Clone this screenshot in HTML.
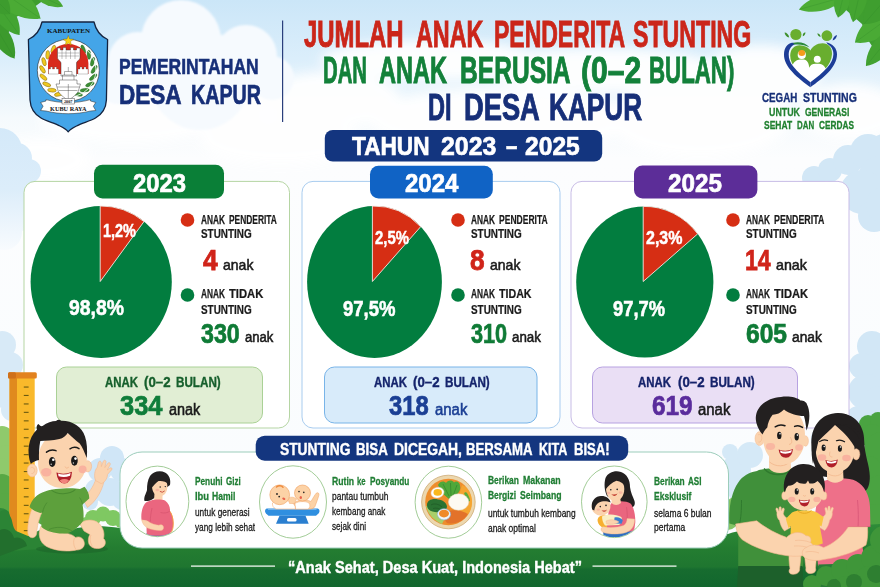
<!DOCTYPE html>
<html lang="id"><head><meta charset="utf-8"><title>Stunting Desa Kapur</title>
<style>
html,body{margin:0;padding:0;}
body{width:880px;height:587px;overflow:hidden;position:relative;background:#f6fafd;font-family:"Liberation Sans",sans-serif;}
#bg{position:absolute;left:0;top:0;width:880px;height:587px;display:block;}
.t{position:absolute;white-space:nowrap;line-height:1;transform-origin:0 0;margin:0;padding:0;}
</style></head><body>

<svg id="bg" width="880" height="587" viewBox="0 0 880 587">
<defs>
<linearGradient id="sky" x1="0" y1="0" x2="0" y2="1">
 <stop offset="0" stop-color="#cbe6f8"/><stop offset="0.1" stop-color="#dbeefb"/>
 <stop offset="0.2" stop-color="#f5fafd"/><stop offset="0.27" stop-color="#fcfdfe"/><stop offset="1" stop-color="#f9fcfe"/>
</linearGradient>
<linearGradient id="ground" x1="0" y1="524" x2="0" y2="587" gradientUnits="userSpaceOnUse">
 <stop offset="0" stop-color="#2e8c38"/><stop offset="0.38" stop-color="#247d31"/><stop offset="0.68" stop-color="#1f7630"/><stop offset="0.72" stop-color="#176c2f"/><stop offset="1" stop-color="#12672e"/>
</linearGradient>
<linearGradient id="leaf" x1="0" y1="0" x2="1" y2="1">
 <stop offset="0" stop-color="#54b23a"/><stop offset="1" stop-color="#3a9a2e"/>
</linearGradient>
<linearGradient id="lcl" x1="0" y1="128" x2="0" y2="250" gradientUnits="userSpaceOnUse">
 <stop offset="0" stop-color="#d4e9f9"/><stop offset="0.5" stop-color="#dcedfa"/><stop offset="1" stop-color="#f8fbfe"/>
</linearGradient>
<filter id="b3" x="-20%" y="-20%" width="140%" height="140%"><feGaussianBlur stdDeviation="3"/></filter>
<filter id="b6" x="-20%" y="-20%" width="140%" height="140%"><feGaussianBlur stdDeviation="6"/></filter>
<filter id="b1" x="-20%" y="-20%" width="140%" height="140%"><feGaussianBlur stdDeviation="1"/></filter>
</defs>
<rect x="0" y="0" width="880" height="587" fill="url(#sky)"/>
<g fill="#ffffff" filter="url(#b6)" opacity="0.95"><ellipse cx="200" cy="95" rx="80" ry="35"/><ellipse cx="130" cy="118" rx="90" ry="26"/><ellipse cx="40" cy="160" rx="50" ry="22"/><ellipse cx="330" cy="100" rx="70" ry="28"/><ellipse cx="500" cy="120" rx="130" ry="32"/><ellipse cx="700" cy="120" rx="90" ry="38"/><ellipse cx="600" cy="70" rx="120" ry="22"/><ellipse cx="760" cy="75" rx="60" ry="30"/><ellipse cx="850" cy="112" rx="50" ry="28"/><ellipse cx="280" cy="140" rx="80" ry="25"/><ellipse cx="430" cy="60" rx="110" ry="20"/></g><g fill="#f6fafe" filter="url(#b1)"><circle cx="181" cy="40" r="40"/><circle cx="138" cy="62" r="30"/><circle cx="246" cy="56" r="31"/><circle cx="118" cy="84" r="20"/><circle cx="272" cy="78" r="22"/><circle cx="200" cy="80" r="50"/></g><g fill="#d2e7f6"><circle cx="814" cy="178" r="12"/><circle cx="830" cy="170" r="12"/><circle cx="848" cy="160" r="15"/><circle cx="868" cy="152" r="18"/><circle cx="884" cy="150" r="16"/><circle cx="880" cy="178" r="22"/><circle cx="862" cy="192" r="22"/><circle cx="874" cy="216" r="16"/><circle cx="884" cy="205" r="18"/><circle cx="872" cy="346" r="15"/><circle cx="884" cy="370" r="22"/><circle cx="862" cy="366" r="13"/><circle cx="866" cy="392" r="18"/><circle cx="882" cy="410" r="24"/><circle cx="858" cy="418" r="12"/><circle cx="856" cy="440" r="10"/></g><g fill="#d8eaf7"><circle cx="2" cy="345" r="14"/><circle cx="10" cy="365" r="13"/><circle cx="4" cy="390" r="18"/><circle cx="12" cy="410" r="11"/></g><g fill="url(#lcl)"><circle cx="0" cy="150" r="22"/><circle cx="17" cy="158" r="15"/><circle cx="29" cy="171" r="12"/><circle cx="32" cy="190" r="10"/><circle cx="8" cy="190" r="26"/><circle cx="20" cy="215" r="16"/><circle cx="4" cy="232" r="18"/></g><g><path d="M0 0 L44 0 L30 10 L14 18 L8 34 L0 46Z" fill="#3e9d2f"/><path d="M812 0 L880 0 L880 58 L868 40 L862 24 L846 10Z" fill="#3f9e2f"/><path d="M-6.0 24.0 C-13.8 34.2 -0.5 54.3 14.5 58.5 C18.0 43.3 6.7 22.1 -6.0 24.0Z" fill="#3c9a2d"/><path d="M-6 24 L14.5 58.5" stroke="#2f8a28" stroke-width="0.6" opacity="0.5"/><path d="M-6.0 0.0 C-13.7 12.0 2.6 32.3 19.5 35.0 C22.1 18.1 7.8 -3.6 -6.0 0.0Z" fill="#43a432"/><path d="M-6 0 L19.5 35" stroke="#2f8a28" stroke-width="0.6" opacity="0.5"/><path d="M36.0 -6.0 C36.0 2.5 52.5 9.3 63.0 6.5 C58.4 -3.3 42.5 -11.5 36.0 -6.0Z" fill="#4aa934"/><path d="M36 -6 L63 6.5" stroke="#2f8a28" stroke-width="0.6" opacity="0.5"/><path d="M-6.0 -14.0 C-10.4 4.2 18.4 22.4 40.5 18.5 C36.6 -3.6 9.6 -24.4 -6.0 -14.0Z" fill="#4bab35"/><path d="M-6 -14 L40.5 18.5" stroke="#2f8a28" stroke-width="0.6" opacity="0.5"/><path d="M-14.0 -10.0 C-21.0 2.8 -5.7 16.2 10.0 14.0 C12.2 -1.7 -1.2 -17.0 -14.0 -10.0Z" fill="#3d9c2e"/><path d="M-14 -10 L10 14" stroke="#2f8a28" stroke-width="0.6" opacity="0.5"/><path d="M840.0 -2.0 C832.2 -10.7 807.9 -2.9 799.0 9.5 C813.0 15.4 837.9 9.5 840.0 -2.0Z" fill="#4dad36"/><path d="M840 -2 L799 9.5" stroke="#2f8a28" stroke-width="0.6" opacity="0.5"/><path d="M846.0 -14.0 C834.2 -13.0 830.4 6.2 838.0 17.5 C850.1 11.2 855.9 -7.5 846.0 -14.0Z" fill="#46a733"/><path d="M846 -14 L838 17.5" stroke="#2f8a28" stroke-width="0.6" opacity="0.5"/><path d="M862.0 -16.0 C849.3 -14.2 845.0 8.9 853.0 22.0 C866.0 13.8 872.5 -8.7 862.0 -16.0Z" fill="#44a431"/><path d="M862 -16 L853 22" stroke="#2f8a28" stroke-width="0.6" opacity="0.5"/><path d="M894.0 14.0 C880.2 5.0 857.7 23.3 855.0 42.5 C874.1 45.8 898.4 29.9 894.0 14.0Z" fill="#4aaa35"/><path d="M894 14 L855 42.5" stroke="#2f8a28" stroke-width="0.6" opacity="0.5"/><path d="M894.0 32.0 C880.9 28.1 865.0 49.2 866.0 66.0 C882.6 63.7 900.4 44.1 894.0 32.0Z" fill="#43a231"/><path d="M894 32 L866 66" stroke="#2f8a28" stroke-width="0.6" opacity="0.5"/><path d="M892.0 -8.0 C876.0 -15.2 860.4 5.0 864.0 24.0 C883.3 25.0 901.3 6.9 892.0 -8.0Z" fill="#3f9e2f"/><path d="M892 -8 L864 24" stroke="#2f8a28" stroke-width="0.6" opacity="0.5"/></g><g fill="#8fca6c"><circle cx="2" cy="438" r="12"/><circle cx="6" cy="455" r="10"/><circle cx="0" cy="470" r="12"/></g><g fill="#58a845"><circle cx="2" cy="486" r="12"/><circle cx="4" cy="505" r="12"/><circle cx="40" cy="505" r="9"/><circle cx="44" cy="516" r="9"/></g><g fill="#d0e6f7"><circle cx="100" cy="470" r="12"/><circle cx="112" cy="458" r="12"/><circle cx="122" cy="470" r="12"/><circle cx="96" cy="490" r="11"/><circle cx="110" cy="492" r="14"/><circle cx="122" cy="500" r="10"/><circle cx="90" cy="502" r="8"/></g><g fill="#7fc862"><circle cx="93" cy="518" r="8"/><circle cx="103" cy="514" r="7.5"/><circle cx="113" cy="518" r="8"/><circle cx="86" cy="523" r="6"/><circle cx="121" cy="522" r="6"/></g><g fill="#d5e9f7"><circle cx="736" cy="470" r="15"/><circle cx="750" cy="455" r="13"/><circle cx="744" cy="490" r="16"/><circle cx="822" cy="438" r="11"/><circle cx="730" cy="452" r="8"/></g><g fill="#84c464"><circle cx="736" cy="508" r="11"/><circle cx="728" cy="520" r="10"/><circle cx="746" cy="522" r="10"/></g><g fill="#4aa341"><circle cx="868" cy="424" r="9"/><circle cx="878" cy="420" r="8"/><circle cx="872" cy="436" r="12"/><circle cx="882" cy="450" r="18"/><circle cx="868" cy="470" r="14"/><circle cx="882" cy="495" r="20"/><circle cx="874" cy="520" r="16"/><circle cx="882" cy="545" r="20"/></g><g fill="#2f8a38"><circle cx="0" cy="520" r="12"/><circle cx="14" cy="528" r="10"/><circle cx="2" cy="540" r="12"/></g><path d="M0 528 C12 524 24 534 36 532 C46 526 58 528 70 530 C90 524 105 526 120 528 L140 530 L710 534 L728 534 C738 530 750 530 760 532 L880 524 L880 587 L0 587 Z" fill="url(#ground)"/><rect x="24" y="181.4" width="265.5" height="246.6" rx="11" fill="#ffffff" stroke="#b5d5a3" stroke-width="1"/><rect x="302" y="181.4" width="258" height="246.6" rx="11" fill="#ffffff" stroke="#a8ccef" stroke-width="1"/><rect x="571" y="181.4" width="278" height="246.6" rx="11" fill="#ffffff" stroke="#c8bce6" stroke-width="1"/><rect x="56.5" y="367" width="206.0" height="56" rx="10" fill="#e1eed4" stroke="#aad196" stroke-width="1"/><rect x="324.5" y="367" width="212.5" height="56" rx="10" fill="#d8ebfa" stroke="#78b4e8" stroke-width="1"/><rect x="592.5" y="367" width="205.0" height="56" rx="10" fill="#eadff5" stroke="#b7a2e1" stroke-width="1"/><ellipse cx="101.2" cy="282" rx="70.6" ry="76" fill="#027d3f"/><path d="M100.2 281.5 L100.20 206.01 A70.6 76 0 0 1 144.00 221.55 Z" fill="#d62e14" stroke="#f4e9e4" stroke-width="0.9" stroke-linejoin="round"/><ellipse cx="374.5" cy="282" rx="67.4" ry="76" fill="#027d3f"/><path d="M372.4 281.5 L372.40 206.04 A67.4 76 0 0 1 420.70 226.66 Z" fill="#d62e14" stroke="#f4e9e4" stroke-width="0.9" stroke-linejoin="round"/><ellipse cx="644.8" cy="282" rx="68.6" ry="75.6" fill="#027d3f"/><path d="M643.2 281.5 L643.20 206.42 A68.6 75.6 0 0 1 697.70 233.87 Z" fill="#d62e14" stroke="#f4e9e4" stroke-width="0.9" stroke-linejoin="round"/><rect x="94" y="164.8" width="130" height="33.8" rx="8.5" fill="#0a7f37"/><rect x="370" y="165.8" width="122.8" height="32.6" rx="8.5" fill="#1063c5"/><rect x="634" y="165.6" width="123.4" height="33" rx="8.5" fill="#5c2d98"/><circle cx="187.5" cy="220" r="6.8" fill="#d62e14"/><circle cx="187.5" cy="295" r="6.8" fill="#027d3f"/><circle cx="458" cy="220" r="6.8" fill="#d62e14"/><circle cx="458" cy="295" r="6.8" fill="#027d3f"/><circle cx="733" cy="220" r="6.8" fill="#d62e14"/><circle cx="733" cy="295" r="6.8" fill="#027d3f"/><rect x="324.8" y="130" width="277.4" height="31.6" rx="8" fill="#13357f"/><rect x="282" y="20.5" width="1.2" height="101.5" fill="#2a3f7c"/><g><rect x="9.5" y="376" width="25.2" height="165" fill="#f9b92b"/><rect x="9.5" y="376" width="7.5" height="165" fill="#e08a1e"/><rect x="8" y="372.3" width="28.8" height="6.2" rx="1.5" fill="#e2821f"/><rect x="8" y="372.3" width="8" height="6.2" rx="1.5" fill="#cf701a"/><rect x="23.8" y="386.5" width="4.8" height="1.1" fill="#6b5a10"/><rect x="23.8" y="394.9" width="4.8" height="1.1" fill="#6b5a10"/><rect x="23.8" y="403.4" width="4.8" height="1.1" fill="#6b5a10"/><rect x="23.8" y="411.8" width="4.8" height="1.1" fill="#6b5a10"/><rect x="23.8" y="420.3" width="4.8" height="1.1" fill="#6b5a10"/><rect x="23.8" y="428.7" width="4.8" height="1.1" fill="#6b5a10"/><rect x="23.8" y="437.2" width="4.8" height="1.1" fill="#6b5a10"/><rect x="23.8" y="445.6" width="4.8" height="1.1" fill="#6b5a10"/><rect x="23.8" y="454.1" width="4.8" height="1.1" fill="#6b5a10"/><rect x="23.8" y="462.5" width="4.8" height="1.1" fill="#6b5a10"/><rect x="23.8" y="471.0" width="4.8" height="1.1" fill="#6b5a10"/><rect x="23.8" y="479.4" width="4.8" height="1.1" fill="#6b5a10"/><rect x="23.8" y="487.9" width="4.8" height="1.1" fill="#6b5a10"/><rect x="23.8" y="496.3" width="4.8" height="1.1" fill="#6b5a10"/><rect x="23.8" y="504.8" width="4.8" height="1.1" fill="#6b5a10"/><rect x="23.8" y="513.2" width="4.8" height="1.1" fill="#6b5a10"/><rect x="23.8" y="521.7" width="4.8" height="1.1" fill="#6b5a10"/><rect x="23.8" y="530.1" width="4.8" height="1.1" fill="#6b5a10"/><rect x="23.8" y="538.6" width="4.8" height="1.1" fill="#6b5a10"/></g><g><path d="M42 22 L94 22 C96 31 100 36 107.6 39.5 L106.4 100 C106 108 102.5 114 95.5 118 C89.5 121.5 81.5 123 76.5 126 C73 127.8 70 129.6 68.2 131.8 C66.5 129.6 63.5 127.8 60 126 C55 123 47 121.5 41 118 C34 114 30.5 108 30 100 L28.4 39.5 C36 36 40 31 42 22 Z" fill="#44a5e8" stroke="#14233f" stroke-width="1.3" stroke-linejoin="round"/><circle cx="68.3" cy="70.3" r="31" fill="#ffffff" stroke="#222" stroke-width="0.6"/><ellipse cx="58.6" cy="94.2" rx="4.3" ry="1.9" fill="#efc81f" stroke="#6a5208" stroke-width="0.4" transform="rotate(167 58.6 94.2)"/><ellipse cx="78.0" cy="94.2" rx="4.6" ry="1.8" fill="#3d8f35" stroke="#1d5a1c" stroke-width="0.35" transform="rotate(13 78.0 94.2)"/><ellipse cx="51.9" cy="90.2" rx="4.3" ry="1.9" fill="#efc81f" stroke="#6a5208" stroke-width="0.4" transform="rotate(184 51.9 90.2)"/><ellipse cx="84.7" cy="90.2" rx="4.6" ry="1.8" fill="#3d8f35" stroke="#1d5a1c" stroke-width="0.35" transform="rotate(-4 84.7 90.2)"/><ellipse cx="46.7" cy="84.4" rx="4.3" ry="1.9" fill="#efc81f" stroke="#6a5208" stroke-width="0.4" transform="rotate(202 46.7 84.4)"/><ellipse cx="89.9" cy="84.4" rx="4.6" ry="1.8" fill="#3d8f35" stroke="#1d5a1c" stroke-width="0.35" transform="rotate(-22 89.9 84.4)"/><ellipse cx="43.4" cy="77.2" rx="4.3" ry="1.9" fill="#efc81f" stroke="#6a5208" stroke-width="0.4" transform="rotate(220 43.4 77.2)"/><ellipse cx="93.2" cy="77.2" rx="4.6" ry="1.8" fill="#3d8f35" stroke="#1d5a1c" stroke-width="0.35" transform="rotate(-40 93.2 77.2)"/><ellipse cx="42.5" cy="69.4" rx="4.3" ry="1.9" fill="#efc81f" stroke="#6a5208" stroke-width="0.4" transform="rotate(237 42.5 69.4)"/><ellipse cx="94.1" cy="69.4" rx="4.6" ry="1.8" fill="#3d8f35" stroke="#1d5a1c" stroke-width="0.35" transform="rotate(-57 94.1 69.4)"/><ellipse cx="44.0" cy="61.7" rx="4.3" ry="1.9" fill="#efc81f" stroke="#6a5208" stroke-width="0.4" transform="rotate(254 44.0 61.7)"/><ellipse cx="92.6" cy="61.7" rx="4.6" ry="1.8" fill="#3d8f35" stroke="#1d5a1c" stroke-width="0.35" transform="rotate(-74 92.6 61.7)"/><ellipse cx="47.7" cy="54.8" rx="4.3" ry="1.9" fill="#efc81f" stroke="#6a5208" stroke-width="0.4" transform="rotate(272 47.7 54.8)"/><ellipse cx="88.9" cy="54.8" rx="4.6" ry="1.8" fill="#3d8f35" stroke="#1d5a1c" stroke-width="0.35" transform="rotate(-92 88.9 54.8)"/><ellipse cx="53.3" cy="49.3" rx="4.3" ry="1.9" fill="#efc81f" stroke="#6a5208" stroke-width="0.4" transform="rotate(290 53.3 49.3)"/><ellipse cx="83.3" cy="49.3" rx="4.6" ry="1.8" fill="#3d8f35" stroke="#1d5a1c" stroke-width="0.35" transform="rotate(-110 83.3 49.3)"/><path d="M76 96 A27 27 0 0 0 86 49" fill="none" stroke="#eef4ea" stroke-width="0.9"/><path d="M48 74 L48 63 C48.5 52 57 44 68.3 44 C79.5 44 88 52 88.4 63 L88.4 74 Z" fill="#d82a1d"/><path d="M48.5 74 L48.5 69 L50.5 69 L50.5 67 L52.5 67 L52.5 69 L54.5 69 L54.5 67 L56.5 67 L56.5 69 L58.5 69 L58.5 74 Z M78 74 L78 69 L80 69 L80 67 L82 67 L82 69 L84 69 L84 67 L86 67 L86 69 L88 69 L88 74Z" fill="#fff" stroke="#444" stroke-width="0.3"/><path d="M57.5 53 L57.5 48 L60.5 48 L60.5 50 L63 50 L63 47.6 L66 47.6 L66 50 L70.5 50 L70.5 47.6 L73.5 47.6 L73.5 50 L76.5 50 L76.5 48 L80 48 L80 53 L80 58 C80 60 76.5 61 76.5 63 L76.5 76 L61 76 L61 63 C61 61 57.5 60 57.5 58 Z" fill="#ffffff" stroke="#333" stroke-width="0.45"/><path d="M58 53 H79.5 M58.5 56 H79 M62 50.5 V59 M66 50.5 V59 M70.5 50.5 V59 M75 50.5 V59" stroke="#555" stroke-width="0.35"/><path d="M59.5 80 L77 80 L77 84 L80.5 84 L78 92 C75 96 71 98.5 68.3 100.5 C65.5 98.5 61.5 96 58.5 92 L56 84 L59.5 84 Z" fill="#fff" stroke="#333" stroke-width="0.45"/><path d="M62.5 80 L62.5 75 L74 75 L74 80 M64.5 75 L64.5 71.5 L72 71.5 L72 75 M68.3 71.5 V67 M57 87 H79.5 M59 90.5 H77.5 M68.3 84 V100" fill="none" stroke="#333" stroke-width="0.4"/><path d="M68.3 35.4 L69.7 39 L73.5 39.2 L70.5 41.6 L71.5 45.3 L68.3 43.2 L65.1 45.3 L66.1 41.6 L63.1 39.2 L66.9 39 Z" fill="#f7d117" stroke="#7a5a00" stroke-width="0.35"/><path d="M40.6 102.5 L46 101 L46 99.6 C60 103.6 76.5 103.6 90.5 99.6 L90.5 101 L95.8 102.5 L93.3 106.2 L95.8 110.5 L90.5 111 C76.5 114.6 60 114.6 46 111 L40.6 110.5 L43.1 106.2 Z" fill="#fff" stroke="#222" stroke-width="0.5"/><rect x="62" y="98.4" width="12.4" height="5.6" fill="#fff" stroke="#222" stroke-width="0.4"/><text x="68.3" y="111" font-family="Liberation Serif" font-weight="700" font-size="5.8" text-anchor="middle" fill="#111" textLength="36.5" lengthAdjust="spacingAndGlyphs">KUBU RAYA</text><text x="68.2" y="103" font-family="Liberation Serif" font-weight="700" font-size="4.3" text-anchor="middle" fill="#111">2007</text><text x="68.5" y="33" font-family="Liberation Serif" font-weight="700" font-size="6.4" text-anchor="middle" fill="#111" textLength="43" lengthAdjust="spacingAndGlyphs">KABUPATEN</text></g><g><path d="M810.4 81.5 C800 74 790 65.5 790.2 55.5 C790.4 49 794.5 45.3 799.5 45.3 C804.5 45.4 808.5 47.5 810.4 50.5 C812.3 46.5 816.8 43.3 822.6 43.2 C828.5 43.2 832.2 47.5 832 54 C831.6 65 821 74.5 810.4 81.5 Z" fill="#69ae2f"/><path d="M792.6 65.2 C793.6 61.8 796.8 59.7 800 59.4 L803.8 59.4 C807 59.9 808.9 62.6 809.3 67.8 C809.9 65.3 812.4 63.7 815.4 63.7 L819.2 63.7 C822.4 64.1 824.6 66 825.6 68.6 L828.5 67 L810.4 83.5 L791.5 66Z" fill="#fff"/><circle cx="801.8" cy="54.9" r="4.1" fill="#fff"/><ellipse cx="801.8" cy="53" rx="3.4" ry="2.9" fill="#f59c1c"/><circle cx="817.3" cy="59.3" r="3.5" fill="#fff"/><path d="M810.4 87.2 C798 78 783.6 67 784 54.2 C784.2 47.5 787.5 43.8 791 42.9 C793 42.5 795 42.8 796.5 43.5 C792 45 788.9 48.5 788.7 54.2 C788.6 58.5 790.3 62.5 792.9 66.1 C797.5 72.3 804.3 77.8 810.4 82.2 Z" fill="#1d3d97"/><path d="M810.4 87.2 C822.5 78.5 837 67.5 837 54.2 C837 48.5 833 44 826.3 42.3 L827.5 44 C831.3 46.3 833.5 49.8 833.4 54.2 C833.3 59 831 63.3 827.5 67.3 C822.8 72.8 816.3 78 810.4 82.2 Z" fill="#1d3d97"/><path d="M792.9 43 C799 41.2 806 43 809.6 47.6 C805.5 45 799.5 43.9 794.5 44.6Z" fill="#2c8a3c"/><circle cx="795.9" cy="34.5" r="5.6" fill="#69ae2f"/><circle cx="826.9" cy="35.7" r="5.4" fill="#69ae2f"/><path d="M784.6 32.6 C786.6 32.6 788.9 34.6 789.2 37.6 C786.6 37.2 784.8 35.2 784.6 32.6Z" fill="#3d8f2a"/><path d="M805.4 32.2 C803.6 32.5 802.5 34.2 802.8 36.2 C804.5 35.6 805.5 34.2 805.4 32.2Z" fill="#3d8f2a"/><path d="M817.4 33.2 C819.2 33.5 820.6 35 820.6 37 C818.8 36.6 817.6 35.2 817.4 33.2Z" fill="#3d8f2a"/><path d="M837 35 C836.8 37.6 835 39.9 832.6 40.6 C832.9 38 834.6 35.7 837 35Z" fill="#1d3d97"/></g><g><rect x="120" y="452" width="608.5" height="96" rx="22" fill="#ffffff" stroke="#9ccdbb" stroke-width="1"/><rect x="255.7" y="435.7" width="372.5" height="25" rx="9" fill="#14367f"/><ellipse cx="157.4" cy="501.4" rx="31.4" ry="35.3" fill="#fff" stroke="#a3cd98" stroke-width="1"/><ellipse cx="293" cy="502" rx="33.5" ry="36.2" fill="#fff" stroke="#a3cd98" stroke-width="1"/><ellipse cx="448.4" cy="502.2" rx="33.3" ry="36" fill="#fff" stroke="#a3cd98" stroke-width="1"/><ellipse cx="614.3" cy="501.8" rx="32.8" ry="35.8" fill="#fff" stroke="#a3cd98" stroke-width="1"/><clipPath id="c1"><ellipse cx="157.4" cy="501.4" rx="30.9" ry="34.8"/></clipPath><g clip-path="url(#c1)"><path d="M150 476 C153 471.5 160 470 165 472.5 C169.5 475 171 480 170 485 L166 488 L156 496 C154 499 150 501.5 144.5 501 C143.5 497 146 494 147 490 C147 485 147.5 480 150 476Z" fill="#232020"/><path d="M154.5 493 L162.5 494 L162.5 501 L154 501.5Z" fill="#fbd3ae"/><path d="M152 486 C152 481 156 478.5 160.5 478.5 C165 478.5 167.6 482 167.4 487 C167.2 492.5 164 496.3 160 496.3 C155.5 496.3 152 492 152 486Z" fill="#fbd3ae"/><path d="M151.5 488 C150.5 481 154 476.5 160 476.5 C165 476.5 168.5 479.5 168.6 484 C166 481.5 162 480.5 158.5 481 C156 483 153.5 485.5 151.5 488Z" fill="#232020"/><circle cx="160.2" cy="487" r="0.75" fill="#222"/><circle cx="165.3" cy="486.6" r="0.7" fill="#222"/><path d="M160.2 491.6 Q162.3 493.4 164.4 491.2" stroke="#c0392b" stroke-width="0.8" fill="none" stroke-linecap="round"/><ellipse cx="157.3" cy="490" rx="1.8" ry="1.3" fill="#f5a49a" opacity="0.6"/><path d="M146.5 533 L170 533 L169 541 L147 541Z" fill="#2f6fc0"/><path d="M151 500.5 C155 499 162 499.3 165 500.5 C168.5 503 170.3 507 170 511 C172.5 514.5 173.6 519.5 173.3 524.5 C173 530.5 170.5 534.5 166.5 535.8 L147 535.8 C146.2 530 146.5 525 147.5 521 L141.5 519.8 C140.8 514 142 507.5 145 503.5 C146.8 501.8 149 500.9 151 500.5Z" fill="#ea667f"/><path d="M170.2 511.5 C172.8 516 173.8 521.5 173 527.5 C172.5 530.5 171.2 533 169.5 534.5" fill="none" stroke="#f5a23a" stroke-width="0.9"/><path d="M152 508 C151 513 150 518 150.5 521.5 M160.5 512.5 C164 513.5 167.5 513 170 511" fill="none" stroke="#d4506c" stroke-width="0.6"/><path d="M141.6 519.8 L147.6 521 C151 523.5 155.5 525 159 525.2 C160.5 524.4 162.5 524.6 163.2 526 C164 527.5 163.6 529.6 162 530.3 C158.5 531 152 530 147.5 528 C144.5 526.5 142.3 523.5 141.6 519.8Z" fill="#fbd3ae" stroke="#f3b98e" stroke-width="0.4"/></g><path d="M267.5 508.5 L317 508.5 C320 508.5 320 512 318.5 513.5 L316 515.8 L268.5 515.8 L266 513.5 C264.5 512 264.5 508.5 267.5 508.5Z" fill="#2f8fe0"/><path d="M268 509.3 L316.5 509.3" stroke="#8cc4f2" stroke-width="0.9"/><path d="M279.5 515.8 L305.5 515.8 L308.7 523.8 L276 523.8Z" fill="#2a7fd0"/><rect x="287" y="518" width="9.6" height="3.6" rx="1.6" fill="#fff"/><path d="M294 503 C298 499.5 306 499 311 501.5 C313 498 315 494.5 316.5 493 C318 492 319.5 493.5 318.8 495.5 C317.8 499 316.5 502.5 315.5 505 C315 507.5 313 509 310 509 L295 509Z" fill="#fcd2a6" stroke="#f0a060" stroke-width="0.5"/><path d="M295 503.5 C299 501 305 501 309 503 C310.5 505 310 508 308 509 L295.5 509Z" fill="#fff" stroke="#f0a060" stroke-width="0.4"/><path d="M272.5 503 C275 500 283 499 290 501.5 C293 502.5 295.5 505 295.5 509 L276 509 C273.5 508 272 505.5 272.5 503Z" fill="#fff" stroke="#f0a060" stroke-width="0.5"/><path d="M288 498 C291 496.5 294.5 497 296.5 499 L294.5 503.5 L289.5 503.5Z" fill="#fcd2a6" stroke="#f0a060" stroke-width="0.4"/><circle cx="279.7" cy="494.8" r="9.9" fill="#fcd2a6" stroke="#f0a060" stroke-width="0.6"/><circle cx="302.5" cy="493" r="8" fill="#fcd2a6" stroke="#f0a060" stroke-width="0.6"/><path d="M276.5 487 C278.5 485.3 281.5 485.5 283 487.2" stroke="#ee8a3c" stroke-width="1.5" fill="none" stroke-linecap="round"/><circle cx="277" cy="494" r="0.9" fill="#222"/><circle cx="279.2" cy="496.6" r="0.9" fill="#222"/><ellipse cx="283.8" cy="498.8" rx="1.6" ry="1.1" fill="#e8604a" transform="rotate(25 283.8 498.8)"/><circle cx="299" cy="491.6" r="0.8" fill="#222"/><circle cx="303.8" cy="492.4" r="0.8" fill="#222"/><ellipse cx="300.8" cy="497.6" rx="1.2" ry="1.5" fill="#e8604a"/><circle cx="448.4" cy="502" r="26.8" fill="#ecd7ae" stroke="#c9a36a" stroke-width="0.7"/><circle cx="448.4" cy="502" r="23.2" fill="#ee8d2c"/><path d="M426 506 C428 514 434 521 442 524 L446 516 L436 506Z" fill="#a9cf6a"/><path d="M462 485 C468 487 472 494 472 502 C472 508 470 513 466 517 L458 508 L460 492Z" fill="#f5a531"/><path d="M466 492 C468 494 470 498 470 501 L467 502 C466 498 465 495 464 493Z" fill="#5aac3c"/><path d="M446 512 C452 509 462 510 468 514 C464 521 455 525 447 523 C444 520 444 515 446 512Z" fill="#e2722a"/><path d="M438 485 C440 481 444 480.5 446 483 C447.5 480 452 479.5 454 482.5 C456 480.5 460 482 460 486 C461 489 459 493 456 495 L449 499 L442 493Z" fill="#4fa83a"/><path d="M443 484 L449 496 M450.5 483 L451 496 M457 485 L453 496" stroke="#2e7d2c" stroke-width="0.6" fill="none"/><path d="M427 505 C427 500 433 498 438 499.5 C443 500 447 503 447 507 C446 511.5 440 513 435 512 C430 511.5 427 509 427 505Z" fill="#2a7232"/><path d="M431 505 C434 503 439 504 442 507 M433 508.5 C436 507.5 439 508.5 441 510" stroke="#1c5424" stroke-width="0.6" fill="none"/><ellipse cx="458.6" cy="502" rx="10.2" ry="8.2" fill="#fdfaf2" stroke="#e5d8bf" stroke-width="0.5"/><ellipse cx="437.5" cy="492.6" rx="6.6" ry="5.3" fill="#fff" stroke="#e3d5b8" stroke-width="0.5" transform="rotate(-12 437.5 492.6)"/><ellipse cx="437.7" cy="492.4" rx="4.2" ry="3.3" fill="#f9b81e"/><ellipse cx="444" cy="514.3" rx="6.6" ry="5.6" fill="#eef5fb" stroke="#7fb0dc" stroke-width="0.6"/><ellipse cx="444" cy="513.6" rx="5" ry="3.9" fill="#ef8a2a"/><clipPath id="c4"><ellipse cx="614.3" cy="501.8" rx="32.3" ry="35.3"/></clipPath><g clip-path="url(#c4)"><path d="M605.5 478 C608 472.5 615 470 621 472 C627 474 630 480 630 487 C630.5 492 633 497 634.5 501 C635.5 504.5 634 507 631.5 507.5 L622 506 L607 496 C604.5 491 603.8 483.5 605.5 478Z" fill="#232020"/><path d="M603 530.5 L634 530.5 L633 540 L604 540Z" fill="#2f6fc0"/><path d="M611 503.5 C616 500.5 626 500.5 630.5 503.5 C634 507.5 635.5 515 635.3 522.5 L634 531.5 L606 531.5 L608 518 C608.3 512 609 507 611 503.5Z" fill="#ea667f"/><path d="M626.5 507 C627.5 513 627.5 519 626.5 524" fill="none" stroke="#d4506c" stroke-width="0.6"/><path d="M612 497 L620 497 L621 503 C618 505.5 614 505.5 611.5 503Z" fill="#fbd3ae"/><path d="M606 488 C606 482 610 478.8 615 478.8 C620.5 478.8 624.3 483 624.3 489 C624.3 496 620 501.3 615 501.3 C610 501.3 606 495.5 606 488Z" fill="#fbd3ae"/><path d="M605.3 490 C604 481.5 608.5 475.5 615.5 475.5 C622 475.5 626.5 480 626.3 487.5 C624 484 620.5 481.5 616.5 480.8 C612 482.5 608 486 605.3 490Z" fill="#232020"/><circle cx="610.8" cy="489.8" r="0.8" fill="#222"/><circle cx="617.2" cy="489.4" r="0.8" fill="#222"/><path d="M611.2 494 Q614.5 495.2 617.6 493.6 Q615 498.2 611.2 494Z" fill="#c0392b"/><ellipse cx="608.6" cy="493" rx="1.8" ry="1.3" fill="#f5a49a" opacity="0.6"/><ellipse cx="620.6" cy="492.6" rx="1.8" ry="1.3" fill="#f5a49a" opacity="0.6"/><path d="M597.5 520 C598 516 602 514.5 606 515.5 L607 527.5 C603 528.5 598 526 597.5 520Z" fill="#f7b030"/><path d="M602 516.5 C607 513.5 616 514 621.4 517 C622.5 520 621.5 523.5 619 525 L605 525.5 C603 523 602 519.5 602 516.5Z" fill="#faefc4"/><path d="M614.5 517.5 C618 516.5 621.5 518 622.8 520.5 L621.5 523.8 L614 523.5Z" fill="#3a7fd0"/><circle cx="601" cy="506.4" r="9.4" fill="#fbd3ae"/><path d="M592.2 509.5 C590.3 502 594.5 496.3 601 496 C606 495.8 609.8 498.5 610.6 502.5 C607 500.8 602.5 500.6 599 502.5 C596.5 504 594.5 507 594.3 510.5Z" fill="#232020"/><circle cx="600.3" cy="506.6" r="0.8" fill="#222"/><circle cx="606" cy="505.4" r="0.8" fill="#222"/><path d="M601.5 510.2 Q604.5 511.3 607 509.4 Q605 513.8 601.5 510.2Z" fill="#c0392b"/><ellipse cx="598.3" cy="509.6" rx="1.7" ry="1.2" fill="#f5a49a" opacity="0.6"/><path d="M634.5 519 C635 525 632 530.5 626 532.5 C618 534.8 608 534.5 602.5 532 C600.3 530.5 600.5 527.5 603 526.8 C609 528 618 527.6 623.5 525.5 C626 524 627 521 627 518.5Z" fill="#fbd3ae" stroke="#f3b98e" stroke-width="0.4"/><path d="M606 521 C610 519 616 519.5 619 522 C616 524.5 610 525 606.5 523.8Z" fill="#fbd3ae" stroke="#f3b98e" stroke-width="0.4"/></g></g><g><path d="M0 512 C4 508 9 510 10 516 C13 520 12 527 16 531 C20 533 24 534 28 536 C32 537 36 537 40 536 C44 534 47 532 50 531 L52 548 L0 552Z" fill="#2b8435"/><path d="M0 530 C6 527 12 531 14 538 C20 536 26 540 27 546 L0 556Z" fill="#226f2d"/><ellipse cx="72" cy="549" rx="36" ry="4.5" fill="#1c652a" opacity="0.6"/><path d="M33 506 C29.5 514 27.5 524 27.8 531 C27.5 535.5 30 538.5 33.5 537.5 C36 536.8 37 534 36.8 531 C37.5 524 39.5 517 42.5 511Z" fill="#fbd3ae" stroke="#f3b98e" stroke-width="0.6"/><path d="M80 524 C84 519.5 93 518.5 98.5 523 C103 527 105 533 103.5 538.5 C106.5 541 106 546.5 101 548 C96 549.5 90.5 548 88.8 543.5 C87.8 540 88.5 536.5 90 534.5 L84 531Z" fill="#fbd3ae" stroke="#f3b98e" stroke-width="0.6"/><path d="M41 526 C37.5 533 39 542 46.5 546.5 C55 551 68 552 76.5 550 C82.5 550 85.5 546 84 541.5 C83 537.5 79 536 75.5 537.5 C72 534 66 532.5 60 533 L48 528Z" fill="#fbd3ae" stroke="#f3b98e" stroke-width="0.6"/><path d="M74.5 538 C73 541.5 73.5 546 76 549.5" fill="none" stroke="#f3b98e" stroke-width="0.7"/><path d="M91 535 C89.5 538.5 90 543 92.5 546.5" fill="none" stroke="#f3b98e" stroke-width="0.7"/><path d="M82 497.5 C88.5 494 93.5 487 96 478.5 L104 481.5 C101.5 492 96 501 87.5 507.5Z" fill="#fbd3ae" stroke="#f3b98e" stroke-width="0.6"/><path d="M95.5 480.5 C93.8 476 94.5 470.5 97.2 467.3 L98.4 462.5 C99 460.5 101.4 461 101.3 463 L101.3 466.6 L103.3 461.3 C104.1 459.5 106.5 460.3 106 462.3 L104.8 467.6 L107.8 463.3 C109 461.8 111 463.1 110.1 464.8 L107.3 470 L110 468 C111.4 467 112.8 468.7 111.6 469.9 L107.6 474.3 C107.2 479 104.6 482.6 101.2 483.6Z" fill="#fbd3ae" stroke="#f3b98e" stroke-width="0.6"/><path d="M45 491.5 C52 488.5 72 487.5 80 489 L84.5 486.8 C87.5 490 89.5 494.5 89.2 498.5 L82.5 504.5 C83.5 510 84 516 83.2 520.5 C80 526 74 531 67.7 533.2 C58 534.5 47 532 41.5 527 C41 521.5 41.5 516.5 42.5 512.5 L40.3 513 C36 511.8 32 509.8 29.5 507 C31.5 499.5 37.5 493.5 45 491.5Z" fill="#5da03c"/><path d="M42.5 512.5 C43.5 508 45 505 47 502.5 M82.5 504.5 C82 501.5 81 499.5 79.5 497.5 M49 529.5 C56 526 66 527 72 531" fill="none" stroke="#488a30" stroke-width="0.8"/><path d="M51.5 490.2 C57 495 69.5 495 75.5 489.4" fill="none" stroke="#488a30" stroke-width="1.1"/><ellipse cx="32.2" cy="470.5" rx="5" ry="6.4" fill="#fbd3ae" stroke="#f3b98e" stroke-width="0.6"/><path d="M30.5 468 C32 466.5 34.5 467.5 34.5 470.5 C34.5 472.5 33 474 31.5 473.5" fill="none" stroke="#f3b98e" stroke-width="0.7"/><ellipse cx="87.8" cy="466.3" rx="3.8" ry="5.6" fill="#fbd3ae" stroke="#f3b98e" stroke-width="0.6"/><path d="M38 462 C38 444 48 433 62 433 C77 433 86.8 443 86.8 460 C86.8 476 77 488 62.5 488 C48 488 38 477 38 462Z" fill="#fbd3ae"/><path d="M30.8 464 C26.5 452 28 438 37 429.5 C36 427 37 424.5 38.5 424 C39.5 425.5 41 426.5 42.5 426 C47 422.5 52 421 56 421 C57.5 419.5 60 419.3 61 420.8 C72 420.5 82 426.5 85 436.5 C87 442.5 87.5 450 86.8 458 C84.5 452.5 82.5 447.5 79.7 443.6 C76 440.5 71.5 436.5 67.7 433 C66 436 63 438.3 59.4 439 C52.5 440.5 45.5 440.5 40.3 441 C39 447.5 38.8 454 39 460 C36 460.5 33 462 30.8 464Z" fill="#232020"/><ellipse cx="46.3" cy="472.3" rx="5.2" ry="4.2" fill="#f7a097" opacity="0.65"/><ellipse cx="82.6" cy="469.4" rx="4" ry="3.8" fill="#f7a097" opacity="0.65"/><path d="M46.5 452.2 Q51 448.6 56 450.6 M70 448.8 Q74.5 446 79 448.6" fill="none" stroke="#1a1a1a" stroke-width="1.5" stroke-linecap="round"/><ellipse cx="52.2" cy="462" rx="3.3" ry="5" fill="#1a1a1a"/><circle cx="53.300000000000004" cy="459.8" r="1.3" fill="#fff"/><circle cx="51.2" cy="464.2" r="0.7" fill="#fff" opacity="0.8"/><ellipse cx="74.4" cy="460.8" rx="3.3" ry="5" fill="#1a1a1a"/><circle cx="75.5" cy="458.6" r="1.3" fill="#fff"/><circle cx="73.4" cy="463.0" r="0.7" fill="#fff" opacity="0.8"/><path d="M65 467 Q66.8 469.6 68.6 467.4" fill="none" stroke="#f3b98e" stroke-width="0.9" stroke-linecap="round"/><path d="M56.4 472.6 Q64.2 475.2 72 471.8 Q71.4 483.2 64.4 483.4 Q57.4 483.4 56.4 472.6Z" fill="#b01f2a"/><path d="M58 473.6 Q64.2 475.8 70.6 472.9 L70 475.8 Q64.2 478 58.6 476.2Z" fill="#fff"/><path d="M59.6 480.4 Q64.4 477.6 69 480.2 Q67 483.3 64.4 483.4 Q61.6 483.4 59.6 480.4Z" fill="#f0837c"/></g><g><path d="M811.5 446 C810 427 821 413 838 413 C854 413 864.5 425 864.2 441 C864.5 455 869.5 465 869.8 476 C870 484 868 490 864 492 L848 480 L820 476 C815 470 812 458 811.5 446Z" fill="#232020"/><path d="M820 483 C827 477.5 848 476.5 856 481 C864.5 485.5 869.5 495 870 507 L870.4 526.6 L860 528 L862 545 L866 564.5 L818 566 L814 520Z" fill="#ee7089"/><path d="M857.5 500 C858.5 510 858.5 520 858 528 M848.3 526.8 L870.3 526.6" fill="none" stroke="#d95878" stroke-width="0.9"/><path d="M827 468 L843 468 L843.5 479 C839 484 831 484 827 479Z" fill="#fbd3ae"/><path d="M827 473 C832 477 839 477 843 472" fill="none" stroke="#f3b98e" stroke-width="0.8"/><ellipse cx="856.2" cy="454.3" rx="3.6" ry="5.6" fill="#fbd3ae" stroke="#f3b98e" stroke-width="0.5"/><path d="M815.7 449 C815.7 434 824 425 835 425 C846.5 425 854.5 434 854.5 449 C854.5 463 846 472.8 834.5 472.8 C823.5 472.8 815.7 463 815.7 449Z" fill="#fbd3ae"/><path d="M813 464 C810.5 452 811 436 818 425 C823 417 831 413.5 838.5 413.5 C852 413.5 863 424 863.5 441 C861 434 856 428 849 425.5 C844 423.5 839 423.5 835 425 C830 430 823.5 436 818.5 441 C816.5 448 815.5 456 813 464Z" fill="#232020"/><path d="M835 425 C841 430 849 437 854 446 C857 449 860 447 861 443 C858 432 848 423 835 425Z" fill="#232020"/><ellipse cx="822" cy="457.5" rx="4.3" ry="3.3" fill="#f7a097" opacity="0.65"/><ellipse cx="846.5" cy="458" rx="4.3" ry="3.3" fill="#f7a097" opacity="0.65"/><path d="M819.6 441.6 Q823.4 438.8 827.6 440.6 M836.4 440.8 Q840.6 439 844.6 441.8" fill="none" stroke="#1a1a1a" stroke-width="1.1" stroke-linecap="round"/><ellipse cx="823.6" cy="447.8" rx="2" ry="3.3" fill="#1a1a1a"/><circle cx="824.2" cy="446.40000000000003" r="0.75" fill="#fff"/><ellipse cx="839.9" cy="448.5" rx="2" ry="3.3" fill="#1a1a1a"/><circle cx="840.5" cy="447.1" r="0.75" fill="#fff"/><path d="M830 452 C829 455 829.5 457 832 457" fill="none" stroke="#f3b98e" stroke-width="0.8" stroke-linecap="round"/><path d="M825.4 460 Q831.6 462 837.8 459.6 Q837 467.2 831.8 467.4 Q826.4 467.4 825.4 460Z" fill="#b01f2a"/><path d="M826.6 460.8 Q831.6 462.6 836.6 460.5 L836.1 462.6 Q831.6 464.2 827.1 462.8Z" fill="#fff"/><path d="M757 471 C765 467 797 467 804 471 L808 492 L803 567 L738.2 567 L738.2 531 L735 525 L729.4 523.5 C728.5 506 732 490 740 480 C745 474.5 751 472 757 471Z" fill="#40903a"/><path d="M741.5 500 C741.5 510 741 518 739.5 524 M735 525 C742 526 750 524.5 756.7 520.5" fill="none" stroke="#2f7a2e" stroke-width="1"/><path d="M764 468.5 C770 476 784 477 791 469.5" fill="none" stroke="#2f7a2e" stroke-width="1.3"/><path d="M738.2 566 L802.5 566 L803.5 587 L737 587Z" fill="#1d602b"/><path d="M818.4 564.5 L866 563 L868 587 L817 587Z" fill="#2a7a38"/><path d="M769 456 L790.5 456 L791 468.5 C786 474.5 774 474.5 769 468.5Z" fill="#fbd3ae"/><path d="M769.5 462 C776 467.5 786 467 790.5 461" fill="none" stroke="#f3b98e" stroke-width="0.9"/><ellipse cx="759.6" cy="438.6" rx="4.6" ry="7" fill="#fbd3ae" stroke="#f3b98e" stroke-width="0.5"/><path d="M758 435 C760 433.5 762 435 761.8 438.5 C761.6 441 760 442.5 758.5 442" fill="none" stroke="#f3b98e" stroke-width="0.7"/><ellipse cx="805.6" cy="441" rx="2.8" ry="5.2" fill="#fbd3ae" stroke="#f3b98e" stroke-width="0.5"/><path d="M762.9 436 C762.9 418 772 409 784 409 C797 409 805 418 805 436 C805 452 796.5 464.2 784 464.2 C771.5 464.2 762.9 452 762.9 436Z" fill="#fbd3ae"/><path d="M762.5 434.5 C758.5 430 755.5 423 755.8 417.5 C756.5 406 767 398 781 397 C789 395.8 797 397.5 800.5 400.5 C803.5 400.5 806.5 402 807 404.5 C810 410 810.5 420 806.5 430.5 C806 425.5 805.2 420 804 416 C797 416 789 413.5 784 409.5 C780.5 413 776.5 414.8 772.6 414.7 C769.5 418.5 767.8 423 767.3 427.5 C765.3 429.5 763.5 432 762.5 434.5Z" fill="#232020"/><ellipse cx="770.5" cy="446.5" rx="4.6" ry="3.4" fill="#f7a097" opacity="0.55"/><ellipse cx="799" cy="447.5" rx="3.8" ry="3.2" fill="#f7a097" opacity="0.55"/><path d="M775.2 426.8 Q780 423.6 785 425.8 M794.6 426.4 Q798.6 424.6 802.5 427.4" fill="none" stroke="#1a1a1a" stroke-width="1.5" stroke-linecap="round"/><ellipse cx="779.3" cy="435.4" rx="2.2" ry="3.7" fill="#1a1a1a"/><circle cx="780.0" cy="433.79999999999995" r="0.8" fill="#fff"/><ellipse cx="796.7" cy="436.7" rx="2.2" ry="3.7" fill="#1a1a1a"/><circle cx="797.4000000000001" cy="435.09999999999997" r="0.8" fill="#fff"/><path d="M790.5 437.5 C792.6 441 792.4 444 789.4 444.4" fill="none" stroke="#f3b98e" stroke-width="0.9" stroke-linecap="round"/><path d="M778.6 449.4 Q785.8 452.4 793 449 Q792 457.6 786 457.8 Q779.8 457.6 778.6 449.4Z" fill="#b01f2a"/><path d="M780 450.4 Q785.8 453 791.8 450 L791.2 452.6 Q785.8 454.6 780.6 452.8Z" fill="#fff"/><path d="M789.5 548 C788.5 556 789 563 790 568.5 C788 571.5 789.5 574.5 793 574.2 C797 574.5 800 572 799.6 568.5 C800.5 562 801 555 801 549 L804.5 549 C804.5 555 805 562 806 568 C805 571.5 807.5 574 811 573.4 C814.5 573.4 816.6 570.8 815.4 568 C816.4 561 816.6 554 815.8 548Z" fill="#fbd3ae" stroke="#f3b98e" stroke-width="0.6"/><path d="M787.5 518.5 C785 517 783.5 515.5 783.3 513.6 L784.3 509.6 C784.6 508 782.8 507.4 782.2 508.8 L781.4 511 L781.2 507.8 C781.1 506.3 779.2 506.4 779.1 507.8 L779 511.2 L777.8 508.6 C777.2 507.3 775.5 508 775.9 509.4 L777 512.8 C776.5 515.5 777.5 518.5 779.5 520.5 C780.3 524.5 781.8 528.5 784.5 531 L790.5 527.5Z" fill="#fbd3ae" stroke="#f3b98e" stroke-width="0.5"/><path d="M821.5 518 C824 516.5 825.6 514.8 825.8 513 L824.9 509 C824.6 507.4 826.4 506.8 827 508.2 L827.8 510.4 L828 507.2 C828.1 505.7 830 505.8 830.1 507.2 L830.2 510.6 L831.4 508 C832 506.7 833.7 507.4 833.3 508.8 L832.2 512.2 C832.7 515 831.7 518 829.7 520 C828.9 524 827.4 528 824.7 530.5 L818.7 527Z" fill="#fbd3ae" stroke="#f3b98e" stroke-width="0.5"/><path d="M792 512.5 C797 509.5 812 509.5 817 512.5 L823.6 517 L821.5 526.5 L819.6 525.2 C820.8 532 822.4 538 822.8 543.4 C813 547 800 547 791 543.4 C790.4 538 790.4 532 791 526 L788.5 528 L785.8 518.7Z" fill="#f9c642"/><path d="M797.5 510.6 C801 514.2 808 514.2 811.5 510.4" fill="none" stroke="#e3a41e" stroke-width="0.9"/><ellipse cx="784.9" cy="495.8" rx="3.1" ry="4.2" fill="#fbd3ae" stroke="#f3b98e" stroke-width="0.5"/><ellipse cx="823.7" cy="495.8" rx="3.1" ry="4.2" fill="#fbd3ae" stroke="#f3b98e" stroke-width="0.5"/><path d="M785.6 491 C785.6 478 794 471 804.3 471 C815 471 823.2 478 823.2 491 C823.2 502.5 815 510.4 804.3 510.4 C793.6 510.4 785.6 502.5 785.6 491Z" fill="#fbd3ae"/><path d="M784.6 492.5 C781.5 479 789 464.5 803 464 C818 463.6 827.5 476 824.4 492.5 C823 487.5 820.8 483.6 817.6 481 C815.5 483 812.5 484 809.5 483.4 L808 480.6 L806 483.6 C802.5 484.2 799 483.4 797 481.6 C794.5 484.5 791 486 788.2 485.8 C786.5 487.6 785.4 490 784.6 492.5Z" fill="#232020"/><ellipse cx="791.8" cy="499.4" rx="3.6" ry="2.7" fill="#f7a097" opacity="0.65"/><ellipse cx="817" cy="499.4" rx="3.6" ry="2.7" fill="#f7a097" opacity="0.65"/><ellipse cx="796.7" cy="491.4" rx="2" ry="3.1" fill="#1a1a1a"/><circle cx="797.3000000000001" cy="490.09999999999997" r="0.75" fill="#fff"/><ellipse cx="812.2" cy="491.4" rx="2" ry="3.1" fill="#1a1a1a"/><circle cx="812.8000000000001" cy="490.09999999999997" r="0.75" fill="#fff"/><path d="M803.3 495.6 Q804.4 497 805.6 495.8" fill="none" stroke="#f3b98e" stroke-width="0.8" stroke-linecap="round"/><path d="M798.8 499.6 Q804.3 501.6 809.8 499.4 Q809 506.2 804.4 506.4 Q799.6 506.2 798.8 499.6Z" fill="#b01f2a"/><path d="M800 500.4 Q804.3 502 808.6 500.2 L808.2 502 Q804.3 503.4 800.4 502.2Z" fill="#fff"/><path d="M735.6 524 C736 530 738 535.5 742 539.5 C752 546.5 770 553.5 786 555.5 C795 557 806 556.5 811 552.5 C814.5 549.5 814 544.5 810.5 542.5 C812 539 810 535.5 806 535.8 C803 532.5 797 531.5 792.5 533.5 C790 534.5 788 536 786.7 537.4 C778 534.5 766 528.5 756.7 520.8Z" fill="#fbd3ae" stroke="#f3b98e" stroke-width="0.6"/><path d="M795 540.5 C800 539.8 806 540.5 810.5 542.5 M794 546 C800 545.6 806 546.4 811 548.6" fill="none" stroke="#f3b98e" stroke-width="0.6"/><path d="M848.3 527 L867.5 527 C868 534 867.5 540 866 545 C857 551 840 557.5 823.6 559.5 C816 561.5 807 560.5 803.5 556.5 C801 553 802.5 548.5 806.5 547.5 C810 544.5 817 543.8 823.6 547.6 C833 544 842 536.5 848.3 527Z" fill="#fbd3ae" stroke="#f3b98e" stroke-width="0.6"/><path d="M805.5 552 C810 551 815 551.4 819 553" fill="none" stroke="#f3b98e" stroke-width="0.6"/><g fill="#3f9639"><circle cx="812" cy="584" r="9"/><circle cx="826" cy="576" r="10"/><circle cx="842" cy="570" r="11"/><circle cx="858" cy="566" r="12"/><circle cx="874" cy="558" r="13"/><circle cx="884" cy="540" r="14"/><circle cx="870" cy="582" r="16"/><circle cx="846" cy="588" r="12"/></g><g fill="#2e7f31"><circle cx="834" cy="586" r="7"/><circle cx="854" cy="582" r="8"/><circle cx="876" cy="574" r="9"/></g></g><rect x="191" y="565.5" width="84" height="1.2" fill="#ffffff"/><rect x="592.5" y="565.5" width="84" height="1.2" fill="#ffffff"/></svg>
<div class="t" style="left:119.30px;top:55px;font-size:22.97px;color:#172f78;font-weight:700;transform:scaleX(0.7618);-webkit-text-stroke:0.60px #172f78;">PEMERINTAHAN</div>
<div class="t" style="left:119.30px;top:81px;font-size:27.76px;color:#172f78;font-weight:700;transform:scaleX(0.8124);-webkit-text-stroke:0.72px #172f78;">DESA</div>
<div class="t" style="left:191.10px;top:81px;font-size:27.76px;color:#172f78;font-weight:700;transform:scaleX(0.7093);-webkit-text-stroke:0.72px #172f78;">KAPUR</div>
<div class="t" style="left:303.50px;top:17px;font-size:36.92px;color:#cb261a;font-weight:700;transform:scaleX(0.6477);-webkit-text-stroke:0.96px #cb261a;">JUMLAH</div>
<div class="t" style="left:415.70px;top:17px;font-size:36.92px;color:#cb261a;font-weight:700;transform:scaleX(0.6326);-webkit-text-stroke:0.96px #cb261a;">ANAK</div>
<div class="t" style="left:493.90px;top:17px;font-size:36.92px;color:#cb261a;font-weight:700;transform:scaleX(0.6229);-webkit-text-stroke:0.96px #cb261a;">PENDERITA</div>
<div class="t" style="left:633.10px;top:17px;font-size:36.92px;color:#cb261a;font-weight:700;transform:scaleX(0.6271);-webkit-text-stroke:0.96px #cb261a;">STUNTING</div>
<div class="t" style="left:323.00px;top:53px;font-size:36.05px;color:#13813a;font-weight:700;transform:scaleX(0.5638);-webkit-text-stroke:0.94px #13813a;">DAN</div>
<div class="t" style="left:379.10px;top:53px;font-size:36.05px;color:#13813a;font-weight:700;transform:scaleX(0.6537);-webkit-text-stroke:0.94px #13813a;">ANAK</div>
<div class="t" style="left:459.80px;top:53px;font-size:36.05px;color:#13813a;font-weight:700;transform:scaleX(0.6818);-webkit-text-stroke:0.94px #13813a;">BERUSIA</div>
<div class="t" style="left:581.10px;top:53px;font-size:36.05px;color:#13813a;font-weight:700;transform:scaleX(0.8336);-webkit-text-stroke:0.94px #13813a;">(0–2</div>
<div class="t" style="left:649.20px;top:53px;font-size:36.05px;color:#13813a;font-weight:700;transform:scaleX(0.6178);-webkit-text-stroke:0.94px #13813a;">BULAN)</div>
<div class="t" style="left:427.70px;top:90px;font-size:36.19px;color:#172f78;font-weight:700;transform:scaleX(0.6493);-webkit-text-stroke:0.94px #172f78;">DI</div>
<div class="t" style="left:463.80px;top:90px;font-size:36.19px;color:#172f78;font-weight:700;transform:scaleX(0.7544);-webkit-text-stroke:0.94px #172f78;">DESA</div>
<div class="t" style="left:548.50px;top:90px;font-size:36.19px;color:#172f78;font-weight:700;transform:scaleX(0.7244);-webkit-text-stroke:0.94px #172f78;">KAPUR</div>
<div class="t" style="left:352.30px;top:133px;font-size:26.16px;color:#ffffff;font-weight:700;transform:scaleX(0.8649);-webkit-text-stroke:0.68px #ffffff;">TAHUN</div>
<div class="t" style="left:441.20px;top:133px;font-size:26.16px;color:#ffffff;font-weight:700;transform:scaleX(0.9500);-webkit-text-stroke:0.68px #ffffff;">2023</div>
<div class="t" style="left:505.70px;top:133px;font-size:26.16px;color:#ffffff;font-weight:700;transform:scaleX(0.7782);-webkit-text-stroke:0.68px #ffffff;">–</div>
<div class="t" style="left:524.50px;top:133px;font-size:26.16px;color:#ffffff;font-weight:700;transform:scaleX(0.9414);-webkit-text-stroke:0.68px #ffffff;">2025</div>
<div class="t" style="left:762.30px;top:92px;font-size:12.94px;color:#172f78;font-weight:700;transform:scaleX(0.7538);-webkit-text-stroke:0.34px #172f78;">CEGAH</div>
<div class="t" style="left:803.10px;top:92px;font-size:12.94px;color:#172f78;font-weight:700;transform:scaleX(0.8139);-webkit-text-stroke:0.34px #172f78;">STUNTING</div>
<div class="t" style="left:769.00px;top:106px;font-size:11.63px;color:#218030;font-weight:700;transform:scaleX(0.7617);-webkit-text-stroke:0.30px #218030;">UNTUK</div>
<div class="t" style="left:805.00px;top:106px;font-size:11.63px;color:#218030;font-weight:700;transform:scaleX(0.7308);-webkit-text-stroke:0.30px #218030;">GENERASI</div>
<div class="t" style="left:764.40px;top:119px;font-size:11.63px;color:#218030;font-weight:700;transform:scaleX(0.7290);-webkit-text-stroke:0.30px #218030;">SEHAT</div>
<div class="t" style="left:797.30px;top:119px;font-size:11.63px;color:#218030;font-weight:700;transform:scaleX(0.6793);-webkit-text-stroke:0.30px #218030;">DAN</div>
<div class="t" style="left:819.40px;top:119px;font-size:11.63px;color:#218030;font-weight:700;transform:scaleX(0.7124);-webkit-text-stroke:0.30px #218030;">CERDAS</div>
<div class="t" style="left:133.00px;top:171px;font-size:25.44px;color:#fff;font-weight:700;transform:scaleX(0.9365);-webkit-text-stroke:0.66px #fff;">2023</div>
<div class="t" style="left:404.50px;top:171px;font-size:25.44px;color:#fff;font-weight:700;transform:scaleX(0.9453);-webkit-text-stroke:0.66px #fff;">2024</div>
<div class="t" style="left:668.00px;top:171px;font-size:25.44px;color:#fff;font-weight:700;transform:scaleX(0.9541);-webkit-text-stroke:0.66px #fff;">2025</div>
<div class="t" style="left:103.00px;top:222px;font-size:18.90px;color:#fff;font-weight:700;transform:scaleX(0.7660);-webkit-text-stroke:0.49px #fff;">1,2%</div>
<div class="t" style="left:375.00px;top:228px;font-size:19.26px;color:#fff;font-weight:700;transform:scaleX(0.7743);-webkit-text-stroke:0.50px #fff;">2,5%</div>
<div class="t" style="left:646.00px;top:228px;font-size:19.26px;color:#fff;font-weight:700;transform:scaleX(0.8312);-webkit-text-stroke:0.50px #fff;">2,3%</div>
<div class="t" style="left:69.00px;top:297px;font-size:22.53px;color:#fff;font-weight:700;transform:scaleX(0.8611);-webkit-text-stroke:0.59px #fff;">98,8%</div>
<div class="t" style="left:343.40px;top:298px;font-size:22.53px;color:#fff;font-weight:700;transform:scaleX(0.8235);-webkit-text-stroke:0.59px #fff;">97,5%</div>
<div class="t" style="left:613.00px;top:298px;font-size:22.53px;color:#fff;font-weight:700;transform:scaleX(0.8142);-webkit-text-stroke:0.59px #fff;">97,7%</div>
<div class="t" style="left:201.30px;top:215px;font-size:11.92px;color:#1a1a1a;font-weight:700;transform:scaleX(0.6997);-webkit-text-stroke:0.25px #1a1a1a;">ANAK</div>
<div class="t" style="left:229.00px;top:215px;font-size:11.92px;color:#1a1a1a;font-weight:700;transform:scaleX(0.7059);-webkit-text-stroke:0.22px #1a1a1a;">PENDERITA</div>
<div class="t" style="left:201.30px;top:229px;font-size:11.92px;color:#1a1a1a;font-weight:700;transform:scaleX(0.8325);-webkit-text-stroke:0.22px #1a1a1a;">STUNTING</div>
<div class="t" style="left:202.80px;top:246px;font-size:28.92px;color:#d0241a;font-weight:700;transform:scaleX(0.9157);-webkit-text-stroke:0.75px #d0241a;">4</div>
<div class="t" style="left:222.50px;top:258px;font-size:14.77px;color:#1a1a1a;font-weight:400;transform:scaleX(0.9496);-webkit-text-stroke:0.55px #1a1a1a;">anak</div>
<div class="t" style="left:201.30px;top:289px;font-size:11.92px;color:#1a1a1a;font-weight:700;transform:scaleX(0.6997);-webkit-text-stroke:0.25px #1a1a1a;">ANAK</div>
<div class="t" style="left:229.20px;top:289px;font-size:11.92px;color:#1a1a1a;font-weight:700;transform:scaleX(0.9448);-webkit-text-stroke:0.22px #1a1a1a;">TIDAK</div>
<div class="t" style="left:201.30px;top:305px;font-size:11.92px;color:#1a1a1a;font-weight:700;transform:scaleX(0.8325);-webkit-text-stroke:0.22px #1a1a1a;">STUNTING</div>
<div class="t" style="left:201.00px;top:319px;font-size:28.49px;color:#0f7b36;font-weight:700;transform:scaleX(0.8155);-webkit-text-stroke:0.74px #0f7b36;">330</div>
<div class="t" style="left:244.50px;top:330px;font-size:14.35px;color:#1a1a1a;font-weight:400;transform:scaleX(0.9130);-webkit-text-stroke:0.55px #1a1a1a;">anak</div>
<div class="t" style="left:470.90px;top:215px;font-size:11.92px;color:#1a1a1a;font-weight:700;transform:scaleX(0.6997);-webkit-text-stroke:0.25px #1a1a1a;">ANAK</div>
<div class="t" style="left:498.60px;top:215px;font-size:11.92px;color:#1a1a1a;font-weight:700;transform:scaleX(0.7177);-webkit-text-stroke:0.22px #1a1a1a;">PENDERITA</div>
<div class="t" style="left:470.90px;top:229px;font-size:11.92px;color:#1a1a1a;font-weight:700;transform:scaleX(0.8325);-webkit-text-stroke:0.22px #1a1a1a;">STUNTING</div>
<div class="t" style="left:469.90px;top:246px;font-size:28.92px;color:#d0241a;font-weight:700;transform:scaleX(0.9095);-webkit-text-stroke:0.75px #d0241a;">8</div>
<div class="t" style="left:490.00px;top:258px;font-size:14.77px;color:#1a1a1a;font-weight:400;transform:scaleX(0.9496);-webkit-text-stroke:0.55px #1a1a1a;">anak</div>
<div class="t" style="left:470.90px;top:289px;font-size:11.92px;color:#1a1a1a;font-weight:700;transform:scaleX(0.6997);-webkit-text-stroke:0.25px #1a1a1a;">ANAK</div>
<div class="t" style="left:498.80px;top:289px;font-size:11.92px;color:#1a1a1a;font-weight:700;transform:scaleX(0.8953);-webkit-text-stroke:0.22px #1a1a1a;">TIDAK</div>
<div class="t" style="left:470.90px;top:305px;font-size:11.92px;color:#1a1a1a;font-weight:700;transform:scaleX(0.8325);-webkit-text-stroke:0.22px #1a1a1a;">STUNTING</div>
<div class="t" style="left:470.60px;top:319px;font-size:28.49px;color:#0f7b36;font-weight:700;transform:scaleX(0.7609);-webkit-text-stroke:0.74px #0f7b36;">310</div>
<div class="t" style="left:512.00px;top:330px;font-size:14.35px;color:#1a1a1a;font-weight:400;transform:scaleX(0.9290);-webkit-text-stroke:0.55px #1a1a1a;">anak</div>
<div class="t" style="left:746.00px;top:215px;font-size:11.92px;color:#1a1a1a;font-weight:700;transform:scaleX(0.6997);-webkit-text-stroke:0.25px #1a1a1a;">ANAK</div>
<div class="t" style="left:773.70px;top:215px;font-size:11.92px;color:#1a1a1a;font-weight:700;transform:scaleX(0.7398);-webkit-text-stroke:0.22px #1a1a1a;">PENDERITA</div>
<div class="t" style="left:746.00px;top:229px;font-size:11.92px;color:#1a1a1a;font-weight:700;transform:scaleX(0.8325);-webkit-text-stroke:0.22px #1a1a1a;">STUNTING</div>
<div class="t" style="left:745.00px;top:246px;font-size:28.92px;color:#d0241a;font-weight:700;transform:scaleX(0.7974);-webkit-text-stroke:0.75px #d0241a;">14</div>
<div class="t" style="left:776.00px;top:258px;font-size:14.77px;color:#1a1a1a;font-weight:400;transform:scaleX(0.9652);-webkit-text-stroke:0.55px #1a1a1a;">anak</div>
<div class="t" style="left:746.00px;top:289px;font-size:11.92px;color:#1a1a1a;font-weight:700;transform:scaleX(0.6997);-webkit-text-stroke:0.25px #1a1a1a;">ANAK</div>
<div class="t" style="left:773.90px;top:289px;font-size:11.92px;color:#1a1a1a;font-weight:700;transform:scaleX(0.9365);-webkit-text-stroke:0.22px #1a1a1a;">TIDAK</div>
<div class="t" style="left:746.00px;top:305px;font-size:11.92px;color:#1a1a1a;font-weight:700;transform:scaleX(0.8325);-webkit-text-stroke:0.22px #1a1a1a;">STUNTING</div>
<div class="t" style="left:745.70px;top:319px;font-size:28.49px;color:#0f7b36;font-weight:700;transform:scaleX(0.8639);-webkit-text-stroke:0.74px #0f7b36;">605</div>
<div class="t" style="left:792.00px;top:330px;font-size:14.35px;color:#1a1a1a;font-weight:400;transform:scaleX(0.9610);-webkit-text-stroke:0.55px #1a1a1a;">anak</div>
<div class="t" style="left:105.00px;top:376px;font-size:13.95px;color:#165f2c;font-weight:700;transform:scaleX(0.8183);-webkit-text-stroke:0.36px #165f2c;">ANAK</div>
<div class="t" style="left:144.40px;top:376px;font-size:13.95px;color:#165f2c;font-weight:700;transform:scaleX(0.9532);-webkit-text-stroke:0.36px #165f2c;">(0–2</div>
<div class="t" style="left:176.30px;top:376px;font-size:13.95px;color:#165f2c;font-weight:700;transform:scaleX(0.8372);-webkit-text-stroke:0.36px #165f2c;">BULAN)</div>
<div class="t" style="left:119.50px;top:391px;font-size:28.20px;color:#0f7d3a;font-weight:700;transform:scaleX(0.9025);-webkit-text-stroke:0.73px #0f7d3a;">334</div>
<div class="t" style="left:169.10px;top:402px;font-size:16.01px;color:#1a1a1a;font-weight:400;transform:scaleX(0.9018);-webkit-text-stroke:0.55px #1a1a1a;">anak</div>
<div class="t" style="left:374.00px;top:376px;font-size:13.95px;color:#15246c;font-weight:700;transform:scaleX(0.8183);-webkit-text-stroke:0.36px #15246c;">ANAK</div>
<div class="t" style="left:413.40px;top:376px;font-size:13.95px;color:#15246c;font-weight:700;transform:scaleX(0.9532);-webkit-text-stroke:0.36px #15246c;">(0–2</div>
<div class="t" style="left:445.30px;top:376px;font-size:13.95px;color:#15246c;font-weight:700;transform:scaleX(0.8372);-webkit-text-stroke:0.36px #15246c;">BULAN)</div>
<div class="t" style="left:389.00px;top:391px;font-size:28.20px;color:#1b3f94;font-weight:700;transform:scaleX(0.8431);-webkit-text-stroke:0.73px #1b3f94;">318</div>
<div class="t" style="left:435.00px;top:402px;font-size:16.01px;color:#1b3f94;font-weight:400;transform:scaleX(0.9334);-webkit-text-stroke:0.55px #1b3f94;">anak</div>
<div class="t" style="left:638.30px;top:376px;font-size:13.95px;color:#15226a;font-weight:700;transform:scaleX(0.8183);-webkit-text-stroke:0.36px #15226a;">ANAK</div>
<div class="t" style="left:677.70px;top:376px;font-size:13.95px;color:#15226a;font-weight:700;transform:scaleX(0.9532);-webkit-text-stroke:0.36px #15226a;">(0–2</div>
<div class="t" style="left:709.60px;top:376px;font-size:13.95px;color:#15226a;font-weight:700;transform:scaleX(0.8372);-webkit-text-stroke:0.36px #15226a;">BULAN)</div>
<div class="t" style="left:652.00px;top:391px;font-size:28.20px;color:#5a2c9c;font-weight:700;transform:scaleX(0.8643);-webkit-text-stroke:0.73px #5a2c9c;">619</div>
<div class="t" style="left:698.00px;top:402px;font-size:16.01px;color:#1a1a1a;font-weight:400;transform:scaleX(0.9334);-webkit-text-stroke:0.55px #1a1a1a;">anak</div>
<div class="t" style="left:279.50px;top:442px;font-size:16.57px;color:#fff;font-weight:700;transform:scaleX(0.8326);-webkit-text-stroke:0.43px #fff;">STUNTING</div>
<div class="t" style="left:355.70px;top:442px;font-size:16.57px;color:#fff;font-weight:700;transform:scaleX(0.8030);-webkit-text-stroke:0.43px #fff;">BISA</div>
<div class="t" style="left:393.60px;top:442px;font-size:16.57px;color:#fff;font-weight:700;transform:scaleX(0.8392);-webkit-text-stroke:0.43px #fff;">DICEGAH,</div>
<div class="t" style="left:466.10px;top:442px;font-size:16.57px;color:#fff;font-weight:700;transform:scaleX(0.7951);-webkit-text-stroke:0.43px #fff;">BERSAMA</div>
<div class="t" style="left:538.90px;top:442px;font-size:16.57px;color:#fff;font-weight:700;transform:scaleX(0.7584);-webkit-text-stroke:0.43px #fff;">KITA</div>
<div class="t" style="left:573.60px;top:442px;font-size:16.57px;color:#fff;font-weight:700;transform:scaleX(0.7921);-webkit-text-stroke:0.43px #fff;">BISA!</div>
<div class="t" style="left:194.90px;top:475px;font-size:11.63px;color:#1f7d33;font-weight:700;transform:scaleX(0.7117);-webkit-text-stroke:0.30px #1f7d33;">Penuhi</div>
<div class="t" style="left:226.20px;top:475px;font-size:11.63px;color:#1f7d33;font-weight:700;transform:scaleX(0.6889);-webkit-text-stroke:0.30px #1f7d33;">Gizi</div>
<div class="t" style="left:194.90px;top:490px;font-size:11.63px;color:#1f7d33;font-weight:700;transform:scaleX(0.8084);-webkit-text-stroke:0.30px #1f7d33;">Ibu</div>
<div class="t" style="left:212.00px;top:490px;font-size:11.63px;color:#1f7d33;font-weight:700;transform:scaleX(0.7385);-webkit-text-stroke:0.30px #1f7d33;">Hamil</div>
<div class="t" style="left:194.90px;top:507px;font-size:11.45px;color:#1a1a1a;font-weight:400;transform:scaleX(0.7266);-webkit-text-stroke:0.30px #1a1a1a;">untuk generasi</div>
<div class="t" style="left:194.90px;top:522px;font-size:11.32px;color:#1a1a1a;font-weight:400;transform:scaleX(0.7290);-webkit-text-stroke:0.30px #1a1a1a;">yang lebih sehat</div>
<div class="t" style="left:332.30px;top:476px;font-size:11.48px;color:#1f7d33;font-weight:700;transform:scaleX(0.7533);-webkit-text-stroke:0.30px #1f7d33;">Rutin</div>
<div class="t" style="left:357.40px;top:476px;font-size:11.48px;color:#1f7d33;font-weight:700;transform:scaleX(0.6747);-webkit-text-stroke:0.30px #1f7d33;">ke</div>
<div class="t" style="left:369.70px;top:476px;font-size:11.48px;color:#1f7d33;font-weight:700;transform:scaleX(0.7160);-webkit-text-stroke:0.30px #1f7d33;">Posyandu</div>
<div class="t" style="left:332.30px;top:491px;font-size:11.04px;color:#1a1a1a;font-weight:400;transform:scaleX(0.7659);-webkit-text-stroke:0.30px #1a1a1a;">pantau tumbuh</div>
<div class="t" style="left:332.30px;top:506px;font-size:11.18px;color:#1a1a1a;font-weight:400;transform:scaleX(0.7276);-webkit-text-stroke:0.30px #1a1a1a;">kembang anak</div>
<div class="t" style="left:332.30px;top:521px;font-size:11.18px;color:#1a1a1a;font-weight:400;transform:scaleX(0.7294);-webkit-text-stroke:0.30px #1a1a1a;">sejak dini</div>
<div class="t" style="left:488.30px;top:474px;font-size:11.63px;color:#1f7d33;font-weight:700;transform:scaleX(0.7264);-webkit-text-stroke:0.30px #1f7d33;">Berikan</div>
<div class="t" style="left:523.00px;top:474px;font-size:11.63px;color:#1f7d33;font-weight:700;transform:scaleX(0.7575);-webkit-text-stroke:0.30px #1f7d33;">Makanan</div>
<div class="t" style="left:488.30px;top:489px;font-size:11.63px;color:#1f7d33;font-weight:700;transform:scaleX(0.7272);-webkit-text-stroke:0.30px #1f7d33;">Bergizi</div>
<div class="t" style="left:519.80px;top:489px;font-size:11.63px;color:#1f7d33;font-weight:700;transform:scaleX(0.7467);-webkit-text-stroke:0.30px #1f7d33;">Seimbang</div>
<div class="t" style="left:488.30px;top:508px;font-size:11.04px;color:#1a1a1a;font-weight:400;transform:scaleX(0.7601);-webkit-text-stroke:0.30px #1a1a1a;">untuk tumbuh kembang</div>
<div class="t" style="left:488.30px;top:523px;font-size:11.04px;color:#1a1a1a;font-weight:400;transform:scaleX(0.7636);-webkit-text-stroke:0.30px #1a1a1a;">anak optimal</div>
<div class="t" style="left:653.50px;top:475px;font-size:11.63px;color:#1f7d33;font-weight:700;transform:scaleX(0.7194);-webkit-text-stroke:0.30px #1f7d33;">Berikan</div>
<div class="t" style="left:687.50px;top:475px;font-size:11.63px;color:#1f7d33;font-weight:700;transform:scaleX(0.6973);-webkit-text-stroke:0.30px #1f7d33;">ASI</div>
<div class="t" style="left:653.50px;top:490px;font-size:11.63px;color:#1f7d33;font-weight:700;transform:scaleX(0.7318);-webkit-text-stroke:0.30px #1f7d33;">Eksklusif</div>
<div class="t" style="left:653.50px;top:508px;font-size:10.90px;color:#1a1a1a;font-weight:400;transform:scaleX(0.7792);-webkit-text-stroke:0.30px #1a1a1a;">selama 6 bulan</div>
<div class="t" style="left:653.50px;top:522px;font-size:11.04px;color:#1a1a1a;font-weight:400;transform:scaleX(0.7725);-webkit-text-stroke:0.30px #1a1a1a;">pertama</div>
<div class="t" style="left:288.00px;top:560px;font-size:16.86px;color:#fff;font-weight:700;transform:scaleX(0.8645);-webkit-text-stroke:0.44px #fff;">“Anak Sehat, Desa Kuat, Indonesia Hebat”</div>

</body></html>
